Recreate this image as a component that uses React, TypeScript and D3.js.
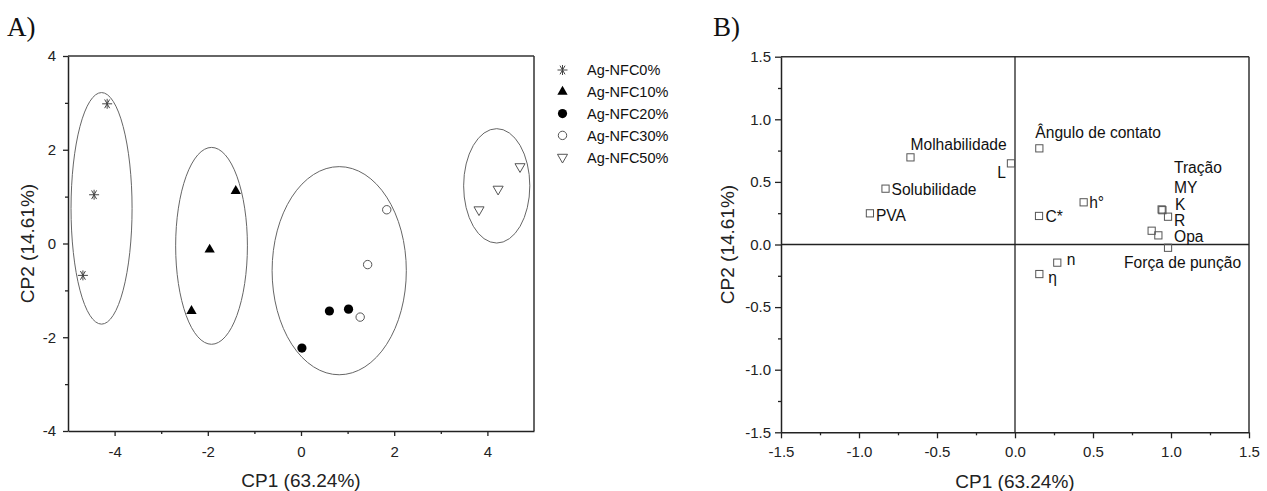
import React, { useEffect, useRef } from "react";
import * as d3 from "d3";

// ---------- Panel A data (scores) ----------
const groupNames = ["Ag-NFC0%", "Ag-NFC10%", "Ag-NFC20%", "Ag-NFC30%", "Ag-NFC50%"];
const nfc0CP1 = [-4.16, -4.44, -4.68];
const nfc0CP2 = [2.98, 1.04, -0.68];
const nfc10CP1 = [-1.4, -1.96, -2.35];
const nfc10CP2 = [1.12, -0.13, -1.44];
const nfc20CP1 = [0.02, 0.61, 1.02];
const nfc20CP2 = [-2.23, -1.44, -1.4];
const nfc30CP1 = [1.84, 1.43, 1.27];
const nfc30CP2 = [0.72, -0.45, -1.57];
const nfc50CP1 = [4.7, 4.23, 3.82];
const nfc50CP2 = [1.64, 1.16, 0.72];

// confidence ellipses (centre and semi-axes in data units)
const ellipseCx = [-4.28, -1.92, 0.82, 4.2];
const ellipseCy = [0.75, -0.05, -0.58, 1.23];
const ellipseRx = [0.655, 0.77, 1.44, 0.71];
const ellipseRy = [2.47, 2.1, 2.22, 1.22];

const xTicksA = [-4, -2, 0, 2, 4];
const xMinorA = [-3, -1, 1, 3];
const yTicksA = [-4, -2, 0, 2, 4];
const yMinorA = [-3, -1, 1, 3];

// ---------- Panel B data (loadings) ----------
const varNames = [
  "Molhabilidade", "Solubilidade", "PVA", "L", "Ângulo de contato", "C*", "h°", "n", "η",
  "Tração", "MY", "K", "R", "Opa", "Força de punção",
];
const loadCP1 = [-0.67, -0.83, -0.93, -0.026, 0.156, 0.154, 0.44, 0.271, 0.156, 0.94, 0.945, 0.981, 0.876, 0.919, 0.981];
const loadCP2 = [0.696, 0.446, 0.249, 0.648, 0.768, 0.228, 0.337, -0.145, -0.236, 0.28, 0.274, 0.222, 0.11, 0.073, -0.026];

// label layout (pixel offsets from marker, anchor)
const labelDx = [0, 6, 6, -5, -4, 6.5, 5.5, 9.5, 9, 12.3, 11.5, 7, 22.3, 15.7, -44];
const labelDy = [-7, 6.5, 8, 15, -10, 6, 6, 2.5, 9, -36, -17.5, -6.7, -4.7, 6.7, 20.6];
const labelAnchor = ["start", "start", "start", "end", "start", "start", "start", "start", "start", "start", "start", "start", "start", "start", "start"];

const xTicksB = [-1.5, -1.0, -0.5, 0.0, 0.5, 1.0, 1.5];
const xMinorB = [-1.25, -0.75, -0.25, 0.25, 0.75, 1.25];
const yTicksB = [-1.5, -1.0, -0.5, 0.0, 0.5, 1.0, 1.5];
const yMinorB = [-1.25, -0.75, -0.25, 0.25, 0.75, 1.25];

const SANS = "'Liberation Sans', Arial, sans-serif";
const SERIF = "'Liberation Serif', 'Times New Roman', serif";

function asteriskPath(r: number) {
  const parts: string[] = [];
  [0, 60, 120].forEach((a) => {
    const t = (a * Math.PI) / 180;
    const dx = r * Math.cos(t), dy = r * Math.sin(t);
    parts.push(`M${-dx},${-dy}L${dx},${dy}`);
  });
  parts.push(`M0,${-r}L0,${r}`);
  return parts.join("");
}

function drawMarker(g: any, kind: number, x: number, y: number) {
  if (kind === 0) {
    g.append("path").attr("d", asteriskPath(5)).attr("transform", `translate(${x},${y})`)
      .attr("stroke", "#444").attr("stroke-width", 1).attr("fill", "none");
  } else if (kind === 1) {
    g.append("path").attr("d", d3.symbol(d3.symbolTriangle, 46)()).attr("transform", `translate(${x},${y})`)
      .attr("fill", "#000");
  } else if (kind === 2) {
    g.append("circle").attr("cx", x).attr("cy", y).attr("r", 4.6).attr("fill", "#000");
  } else if (kind === 3) {
    g.append("circle").attr("cx", x).attr("cy", y).attr("r", 4.2).attr("fill", "#fff")
      .attr("stroke", "#555").attr("stroke-width", 1);
  } else {
    g.append("path").attr("d", d3.symbol(d3.symbolTriangle, 44)()).attr("transform", `translate(${x},${y}) rotate(180)`)
      .attr("fill", "#fff").attr("stroke", "#555").attr("stroke-width", 1);
  }
}

function styleAxis(g: any, fontSize: number) {
  g.select(".domain").attr("stroke", "#222").attr("stroke-width", 1.5);
  g.selectAll(".tick line").attr("stroke", "#222").attr("stroke-width", 1.3);
  g.selectAll(".tick text").attr("fill", "#222").style("font-family", SANS).style("font-size", `${fontSize}px`);
}

function drawA(svg: any) {
  const x = d3.scaleLinear().domain([-5, 5]).range([68, 534]);
  const y = d3.scaleLinear().domain([-4, 4]).range([431, 56]);
  const g = svg.append("g");

  // frame top/right
  g.append("line").attr("x1", x(-5)).attr("x2", x(5)).attr("y1", y(4)).attr("y2", y(4)).attr("stroke", "#333").attr("stroke-width", 1.5);
  g.append("line").attr("x1", x(5)).attr("x2", x(5)).attr("y1", y(4)).attr("y2", y(-4)).attr("stroke", "#333").attr("stroke-width", 1.5);

  const fmt = (d: any) => String(d);
  const xa = g.append("g").attr("transform", `translate(0,${y(-4)})`)
    .call(d3.axisBottom(x).tickValues(xTicksA).tickSize(5).tickSizeOuter(0).tickPadding(10).tickFormat(fmt));
  styleAxis(xa, 15);
  const xm = g.append("g").attr("transform", `translate(0,${y(-4)})`)
    .call(d3.axisBottom(x).tickValues(xMinorA).tickSize(3).tickSizeOuter(0).tickFormat(() => ""));
  xm.select(".domain").remove(); styleAxis(xm, 15);
  const ya = g.append("g").attr("transform", `translate(${x(-5)},0)`)
    .call(d3.axisLeft(y).tickValues(yTicksA).tickSize(5).tickSizeOuter(0).tickPadding(7).tickFormat(fmt));
  styleAxis(ya, 15);
  const ym = g.append("g").attr("transform", `translate(${x(-5)},0)`)
    .call(d3.axisLeft(y).tickValues(yMinorA).tickSize(3).tickSizeOuter(0).tickFormat(() => ""));
  ym.select(".domain").remove(); styleAxis(ym, 15);

  // ellipses
  ellipseCx.forEach((cx, i) => {
    g.append("ellipse").attr("cx", x(cx)).attr("cy", y(ellipseCy[i]))
      .attr("rx", x(cx + ellipseRx[i]) - x(cx)).attr("ry", y(ellipseCy[i]) - y(ellipseCy[i] + ellipseRy[i]))
      .attr("fill", "none").attr("stroke", "#666").attr("stroke-width", 1);
  });

  const series = [
    [nfc0CP1, nfc0CP2], [nfc10CP1, nfc10CP2], [nfc20CP1, nfc20CP2], [nfc30CP1, nfc30CP2], [nfc50CP1, nfc50CP2],
  ];
  series.forEach(([xs, ys], k) => {
    xs.forEach((v, i) => drawMarker(g, k, x(v), y(ys[i])));
  });

  // legend
  groupNames.forEach((name, k) => {
    const ly = 70 + k * 21.8;
    drawMarker(g, k, 562.5, ly);
    g.append("text").attr("x", 587).attr("y", ly + 5.3).text(name)
      .style("font-family", SANS).style("font-size", "14.5px").attr("fill", "#111");
  });

  g.append("text").attr("x", (x(-5) + x(5)) / 2).attr("y", 487).attr("text-anchor", "middle")
    .text("CP1 (63.24%)").style("font-family", SANS).style("font-size", "19px").attr("fill", "#222");
  g.append("text").attr("transform", `translate(34,${(y(4) + y(-4)) / 2}) rotate(-90)`).attr("text-anchor", "middle")
    .text("CP2 (14.61%)").style("font-family", SANS).style("font-size", "19px").attr("fill", "#222");
  g.append("text").attr("x", 7).attr("y", 36).text("A)")
    .style("font-family", SERIF).style("font-size", "27px").attr("fill", "#111");
}

function drawB(svg: any) {
  const x = d3.scaleLinear().domain([-1.5, 1.5]).range([781, 1249]);
  const y = d3.scaleLinear().domain([-1.5, 1.5]).range([432.3, 56.7]);
  const g = svg.append("g");

  g.append("line").attr("x1", x(-1.5)).attr("x2", x(1.5)).attr("y1", y(1.5)).attr("y2", y(1.5)).attr("stroke", "#333").attr("stroke-width", 1.5);
  g.append("line").attr("x1", x(1.5)).attr("x2", x(1.5)).attr("y1", y(1.5)).attr("y2", y(-1.5)).attr("stroke", "#333").attr("stroke-width", 1.5);
  // zero lines
  g.append("line").attr("x1", x(-1.5)).attr("x2", x(1.5)).attr("y1", y(0)).attr("y2", y(0)).attr("stroke", "#222").attr("stroke-width", 1.3);
  g.append("line").attr("x1", x(0)).attr("x2", x(0)).attr("y1", y(1.5)).attr("y2", y(-1.5)).attr("stroke", "#222").attr("stroke-width", 1.3);

  const fmt = (d: any) => d3.format(".1f")(d).replace("−", "-");
  const xa = g.append("g").attr("transform", `translate(0,${y(-1.5)})`)
    .call(d3.axisBottom(x).tickValues(xTicksB).tickSize(6).tickSizeOuter(0).tickPadding(8).tickFormat(fmt));
  styleAxis(xa, 15);
  const xm = g.append("g").attr("transform", `translate(0,${y(-1.5)})`)
    .call(d3.axisBottom(x).tickValues(xMinorB).tickSize(3).tickSizeOuter(0).tickFormat(() => ""));
  xm.select(".domain").remove(); styleAxis(xm, 15);
  const ya = g.append("g").attr("transform", `translate(${x(-1.5)},0)`)
    .call(d3.axisLeft(y).tickValues(yTicksB).tickSize(6).tickSizeOuter(0).tickPadding(4).tickFormat(fmt));
  styleAxis(ya, 15);
  const ym = g.append("g").attr("transform", `translate(${x(-1.5)},0)`)
    .call(d3.axisLeft(y).tickValues(yMinorB).tickSize(3).tickSizeOuter(0).tickFormat(() => ""));
  ym.select(".domain").remove(); styleAxis(ym, 15);

  varNames.forEach((name, i) => {
    const px = x(loadCP1[i]), py = y(loadCP2[i]);
    g.append("rect").attr("x", px - 3.6).attr("y", py - 3.6).attr("width", 7.2).attr("height", 7.2)
      .attr("fill", "none").attr("stroke", "#555").attr("stroke-width", 1);
    g.append("text").attr("x", px + labelDx[i]).attr("y", py + labelDy[i]).attr("text-anchor", labelAnchor[i])
      .text(name).style("font-family", SANS).style("font-size", "15.6px").attr("fill", "#111");
  });

  g.append("text").attr("x", (x(-1.5) + x(1.5)) / 2).attr("y", 488).attr("text-anchor", "middle")
    .text("CP1 (63.24%)").style("font-family", SANS).style("font-size", "19px").attr("fill", "#222");
  g.append("text").attr("transform", `translate(734,${(y(1.5) + y(-1.5)) / 2}) rotate(-90)`).attr("text-anchor", "middle")
    .text("CP2 (14.61%)").style("font-family", SANS).style("font-size", "19px").attr("fill", "#222");
  g.append("text").attr("x", 713).attr("y", 36).text("B)")
    .style("font-family", SERIF).style("font-size", "27px").attr("fill", "#111");
}

export default function App() {
  const ref = useRef<SVGSVGElement>(null);
  useEffect(() => {
    const svg = d3.select(ref.current);
    svg.selectAll("*").remove();
    drawA(svg);
    drawB(svg);
  }, []);
  return (
    <svg
      ref={ref}
      width={1267}
      height={491}
      style={{ position: "absolute", left: 0, top: 0, background: "#fff" }}
    />
  );
}
